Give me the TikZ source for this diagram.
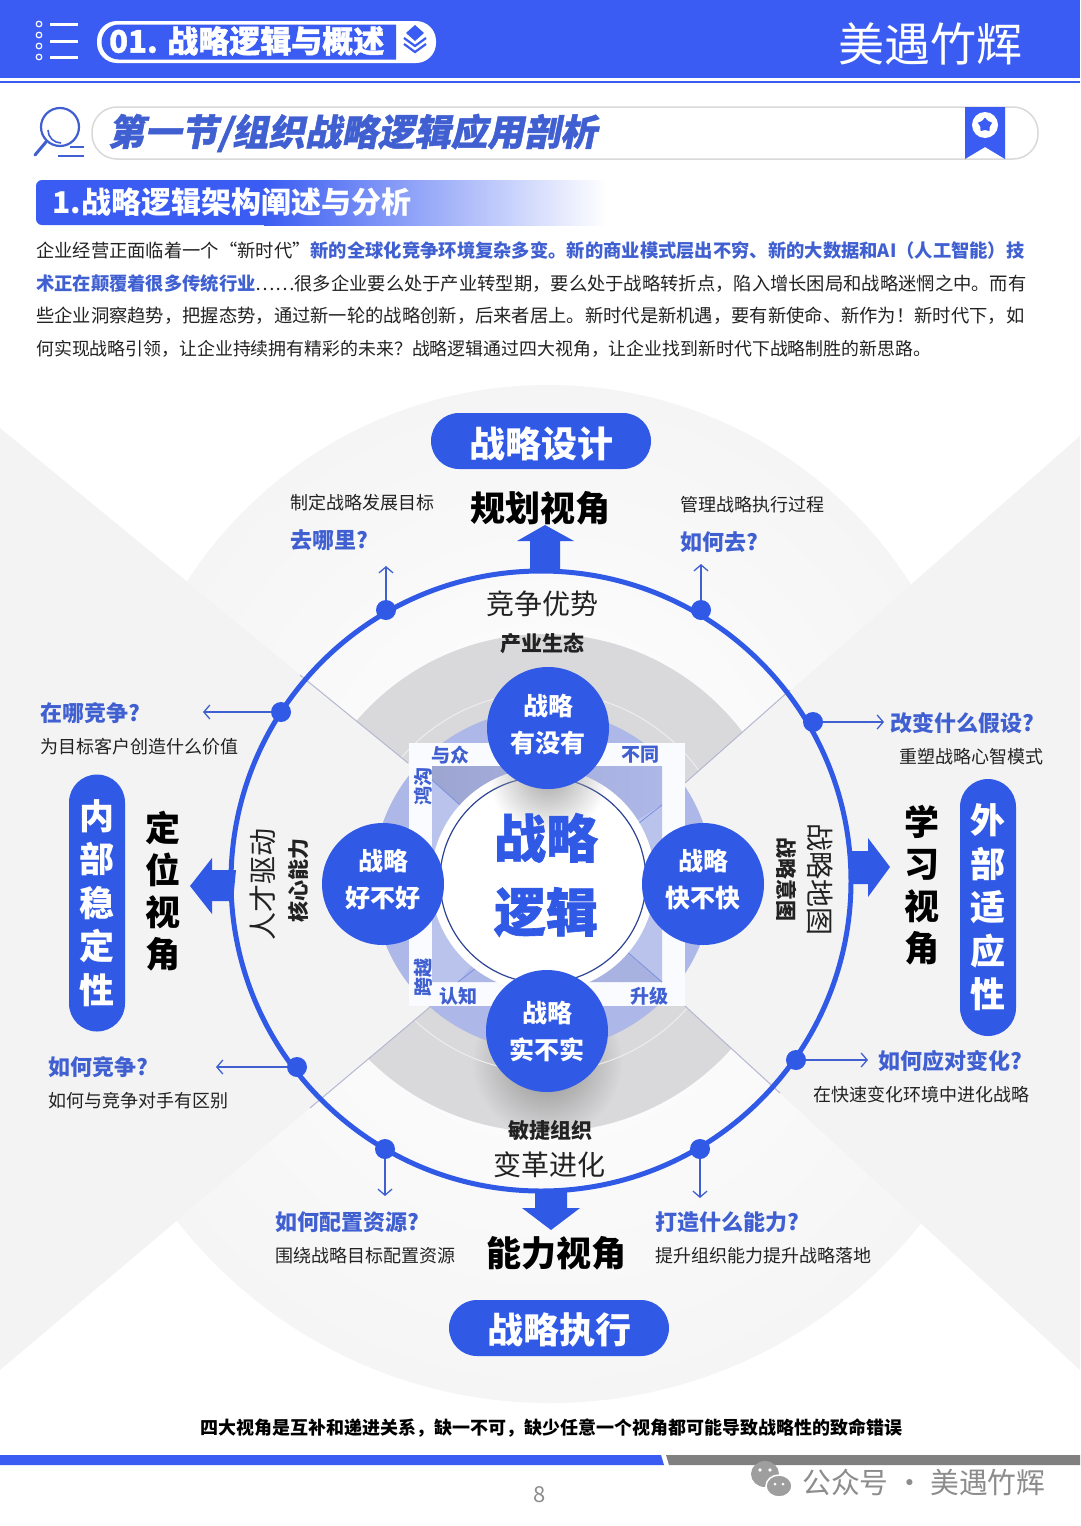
\documentclass[tikz,border=0pt]{standalone}
\usepackage{fontspec}
\setmainfont{Noto Sans CJK SC}
\newfontfamily\heavyfont[FakeBold=1.2]{Noto Sans CJK SC}
\newfontfamily\slantfont[FakeSlant=0.2,FakeBold=1.2]{Noto Sans CJK SC}
\usetikzlibrary{arrows.meta,shapes.geometric,fadings}
\definecolor{mainblue}{HTML}{3059E6}
\definecolor{headblue}{HTML}{3A5CF2}
\definecolor{textblue}{HTML}{4060D2}
\definecolor{bodyblack}{HTML}{222222}
\definecolor{sidegrey}{HTML}{F3F3F4}
\definecolor{sectorgrey}{HTML}{F5F5F6}
\definecolor{ringgrey}{HTML}{D9D9DB}
\definecolor{diskblue}{HTML}{AEB8E8}
\definecolor{diagline}{HTML}{B4B7D0}
\newcommand{\fsz}[2]{\fontsize{#1}{#2}\selectfont}
\tikzfading[name=softspot,inner color=transparent!0,outer color=transparent!100]
\tikzset{
  plaintext/.style={anchor=west,inner sep=0pt,text=bodyblack,font=\fsz{18}{22}},
  asklabel/.style={anchor=west,inner sep=0pt,text=textblue,font=\fsz{22}{26}\bfseries},
  bodyline/.style={anchor=west,inner sep=0pt,text=bodyblack,font=\fsz{18.3}{22}},
  pillbox/.style={fill=mainblue,rounded corners=28pt,text=white,inner sep=0pt,align=center},
  viewtext/.style={inner sep=0pt,text=black,font=\fsz{35}{42}\bfseries,align=center},
  stratdot/.style={circle,fill=mainblue,minimum size=122pt,inner sep=0pt,text=white,align=center,font=\fsz{25}{37}\bfseries},
  ringdot/.style={circle,fill=mainblue,minimum size=20pt,inner sep=0pt},
  ringarrow/.style={draw=textblue,line width=1.3pt,-{Straight Barb[length=6pt,width=14pt]}},
  cornertext/.style={inner sep=0pt,text=textblue,font=\fsz{19}{22}\bfseries},
  sidetext/.style={inner sep=0pt,text=bodyblack},
  bigarrow/.style={fill=mainblue},
}
\begin{document}
\begin{tikzpicture}[x=1pt,y=-1pt]
\useasboundingbox (0,0) rectangle (1080,1526);
\fill[white] (0,0) rectangle (1080,1526);
% header band
\fill[headblue] (0,0) rectangle (1080,78);
\fill[headblue] (0,80.5) rectangle (1080,82.5);
\foreach \yy in {24,35,46,57} {\draw[white,line width=1.2pt] (39,\yy) circle (2.8);}
\foreach \yy in {24,41,57} {\draw[white,line width=3pt] (50,\yy) -- (78,\yy);}
\fill[white,rounded corners=20pt] (97,21) rectangle (436,63);
\fill[headblue] (119,24.5) -- (396,24.5) -- (396,59.5) -- (119,59.5) arc[start angle=90,end angle=270,radius=17.5];
\node[inner sep=0pt,anchor=west,text=white,font=\fsz{31}{36}\heavyfont\bfseries] (chaptitle) at (109,41) {01. 战略逻辑与概述};
\fill[headblue] (415,25) -- (424,33) -- (415,41) -- (406,33) -- cycle;
\draw[headblue,line width=2.2pt] (404,38) -- (415,46) -- (426,38);
\draw[headblue,line width=2.2pt] (404,44) -- (415,52) -- (426,44);
\node[inner sep=0pt,text=white,font=\fsz{46}{50}] (brandname) at (930,44) {美遇竹辉};
% section title
\draw[white!85!black,line width=1.5pt,fill=white,rounded corners=25pt] (92,107) rectangle (1038,159);
\node[inner sep=0pt,anchor=west,text=textblue,font=\fsz{36.5}{42}\slantfont\bfseries] (sectitle) at (108,133) {第一节/组织战略逻辑应用剖析};
\fill[headblue] (965,107) -- (1005,107) -- (1005,159) -- (985,147) -- (965,159) -- cycle;
\fill[white] (985,125) circle (13);
\node[star,star points=5,fill=headblue,minimum size=15pt,inner sep=0pt] (badgestar) at (985,125) {};
\draw[textblue,line width=2.2pt,fill=white] (60,127) circle (19);
\draw[textblue,line width=1.6pt] (48,130) arc[start angle=180,end angle=90,radius=13];
\draw[textblue,line width=3pt,line cap=round] (46,142) -- (35,155);
\draw[textblue,line width=2.2pt] (70,147) -- (84,147);
\draw[textblue,line width=2.2pt] (58,156) -- (84,156);
% subsection bar
\fill[headblue,rounded corners=6pt] (36,180) rectangle (270,225);
\shade[left color=headblue,right color=white] (264,180) rectangle (606,225);
\node[inner sep=0pt,anchor=west,text=white,font=\fsz{30}{34}\bfseries] (subtitle) at (52,202) {1.战略逻辑架构阐述与分析};
% body text
\node[bodyline] (bodya) at (36,251) {企业经营正面临着一个“新时代”\textcolor{textblue}{\bfseries 新的全球化竞争环境复杂多变。新的商业模式层出不穷、新的大数据和AI（人工智能）技}};
\node[bodyline] (bodyb) at (36,284) {\textcolor{textblue}{\bfseries 术正在颠覆着很多传统行业}……很多企业要么处于产业转型期，要么处于战略转折点，陷入增长困局和战略迷惘之中。而有};
\node[bodyline] (bodyc) at (36,316) {些企业洞察趋势，把握态势，通过新一轮的战略创新，后来者居上。新时代是新机遇，要有新使命、新作为！新时代下，如};
\node[bodyline,font=\fsz{17.9}{22}] (bodyd) at (36,349) {何实现战略引领，让企业持续拥有精彩的未来？战略逻辑通过四大视角，让企业找到新时代下战略制胜的新思路。};
% backdrop wedges
\fill[sidegrey] (0,428) -- (408,763) -- (545,880) -- (430,1007) -- (0,1370) -- cycle;
\fill[sidegrey] (1080,436) -- (685,783) -- (545,880) -- (685,1006) -- (1080,1370) -- cycle;
\begin{scope}
\clip (0,428) -- (408,763) -- (545,870) -- (685,783) -- (1080,436) -- (1080,0) -- (0,0) -- cycle;
\shade[inner color=white,outer color=sectorgrey] (548,815) circle (430);
\fill[ringgrey] (545,882) circle (248);
\draw[white!93!black,line width=1pt] (545,882) circle (190);
\end{scope}
\begin{scope}
\clip (0,1370) -- (430,1007) -- (545,900) -- (685,1006) -- (1080,1370) -- (1080,1526) -- (0,1526) -- cycle;
\shade[inner color=white,outer color=sectorgrey] (550,930) circle (473);
\fill[ringgrey] (545,882) circle (250);
\fill[black!45,path fading=softspot] (547,1062) circle (75);
\draw[white!93!black,line width=1pt] (545,882) circle (190);
\end{scope}
\draw[diagline,line width=1pt] (300,675) -- (408,763);
\draw[diagline,line width=1pt] (790,690) -- (685,783);
\draw[diagline,line width=1pt] (310,1108) -- (430,1007);
\draw[diagline,line width=1pt] (780,1093) -- (685,1006);
% centre square
\fill[diskblue] (543,880) circle (170);
\fill[white!94!diskblue] (409,743) rectangle (685,1006);
\shade[left color=black!10!diskblue,right color=diskblue] (432,766) -- (662,766) -- (662,805) -- (543,880) -- (432,780) -- cycle;
\fill[diskblue!85] (432,780) -- (543,880) -- (458,982) -- (432,982) -- cycle;
\fill[diskblue!85] (662,805) -- (543,880) -- (630,955) -- (662,982) -- cycle;
\shade[left color=diskblue,right color=black!4!diskblue] (458,982) -- (543,880) -- (630,955) -- (662,982) -- cycle;
\draw[textblue!70,line width=.8pt] (432,780) -- (460,805);
\draw[textblue!70,line width=.8pt] (662,805) -- (630,830);
\draw[textblue!70,line width=.8pt] (458,982) -- (480,965);
\draw[textblue!70,line width=.8pt] (662,982) -- (625,950);
\node[cornertext] (withall) at (450,755) {与众};
\node[cornertext] (differ) at (640,755) {不同};
\node[cornertext] (knowing) at (458,996) {认知};
\node[cornertext] (upgrade) at (649,996) {升级};
\node[cornertext,rotate=90] (gapword) at (423,786) {鸿沟};
\node[cornertext,rotate=90] (crossword) at (423,977) {跨越};
% big ring and arrows
\draw[mainblue,line width=5pt] (541,881) circle (310);
\fill[bigarrow] (530,572) -- (530,541) -- (517,541) -- (545,525) -- (574,541) -- (560,541) -- (560,572) -- cycle;
\fill[bigarrow] (852,851) -- (868,851) -- (868,838) -- (890,867) -- (868,897) -- (868,884) -- (852,884) -- cycle;
\fill[bigarrow] (236,870) -- (212,870) -- (212,858) -- (190,886) -- (212,914) -- (212,901) -- (233,901) -- cycle;
\fill[bigarrow] (535,1190) -- (535,1208) -- (522,1208) -- (551,1230) -- (580,1208) -- (567,1208) -- (567,1190) -- cycle;
% logic core
\fill[white] (543,880) circle (112);
\draw[black!30!textblue,line width=1.2pt] (543,880) circle (103);
\begin{scope}
\clip (543,880) circle (112);
\fill[black!35,path fading=softspot] (548,775) circle (60);
\end{scope}
\node[inner sep=0pt,text=mainblue,align=center,font=\fsz{52}{74}\heavyfont\bfseries] (corelogic) at (546,875) {战略\\逻辑};
\node[stratdot,text depth=10pt] (havedot) at (548,728) {战略\\有没有};
\node[stratdot,text depth=12pt] (gooddot) at (383,884) {战略\\好不好};
\node[stratdot,text depth=12pt] (fastdot) at (703,884) {战略\\快不快};
\node[stratdot] (realdot) at (547,1031) {战略\\实不实};
% ring texts
\node[sidetext,font=\fsz{28}{32}] (rivaltop) at (542,604) {竞争优势};
\node[sidetext,font=\fsz{21}{25}\bfseries] (ecotop) at (542,644) {产业生态};
\node[sidetext,font=\fsz{21}{25}\bfseries] (agilebot) at (550,1130) {敏捷组织};
\node[sidetext,font=\fsz{28}{32}] (changebot) at (549,1165) {变革进化};
\node[sidetext,font=\fsz{28}{32},rotate=90] (talentleft) at (263,884) {人才驱动};
\node[sidetext,font=\fsz{21}{25}\bfseries,rotate=90] (coreleft) at (298,880) {核心能力};
\node[sidetext,font=\fsz{28}{32},rotate=-90] (mapright) at (820,879) {战略地图};
\node[sidetext,font=\fsz{21}{25}\bfseries,rotate=-90] (intentright) at (787,879) {战略意图};
% view titles
\node[pillbox,minimum width=220pt,minimum height=56pt,text height=37pt,font=\fsz{36}{42}\bfseries] (designpill) at (541,441) {战略设计};
\node[pillbox,minimum width=220pt,minimum height=56pt,text height=34pt,font=\fsz{36}{42}\bfseries] (executepill) at (559,1328) {战略执行};
\node[pillbox,minimum width=56pt,minimum height=257pt,font=\fsz{35}{43.5}\bfseries] (innerpill) at (97,903) {内\\部\\稳\\定\\性};
\node[pillbox,minimum width=56pt,minimum height=257pt,font=\fsz{35}{43.5}\bfseries] (outerpill) at (988,907.5) {外\\部\\适\\应\\性};
\node[viewtext] (planview) at (540,508) {规划视角};
\node[viewtext] (abilityview) at (556,1253) {能力视角};
\node[viewtext] (placeview) at (163,891) {定\\位\\视\\角};
\node[viewtext] (learnview) at (922,885) {学\\习\\视\\角};
% question labels
\node[plaintext] (goalnote) at (290,503) {制定战略发展目标};
\node[asklabel] (whereask) at (290,540) {去哪里?};
\node[plaintext] (processnote) at (680,505) {管理战略执行过程};
\node[asklabel] (howgoask) at (680,542) {如何去?};
\node[asklabel] (fieldask) at (40,713) {在哪竞争?};
\node[plaintext] (valuenote) at (40,747) {为目标客户创造什么价值};
\node[asklabel] (assumeask) at (890,723) {改变什么假设?};
\node[plaintext] (mindnote) at (899,757) {重塑战略心智模式};
\node[asklabel] (competeask) at (48,1067) {如何竞争?};
\node[plaintext] (rivalnote) at (48,1101) {如何与竞争对手有区别};
\node[asklabel] (adaptask) at (878,1061) {如何应对变化?};
\node[plaintext] (evolvenote) at (813,1095) {在快速变化环境中进化战略};
\node[asklabel] (resourceask) at (275,1222) {如何配置资源?};
\node[plaintext] (allocnote) at (275,1256) {围绕战略目标配置资源};
\node[asklabel] (buildask) at (655,1222) {打造什么能力?};
\node[plaintext] (landnote) at (655,1256) {提升组织能力提升战略落地};
% ring connectors
\node[ringdot] (dota) at (386,610) {};
\node[ringdot] (dotb) at (701,610) {};
\node[ringdot] (dotc) at (281,712) {};
\node[ringdot] (dotd) at (813,722) {};
\node[ringdot] (dote) at (297,1067) {};
\node[ringdot] (dotf) at (796,1060) {};
\node[ringdot] (dotg) at (385,1149) {};
\node[ringdot] (doth) at (700,1149) {};
\coordinate (enda) at (386,566);
\coordinate (endb) at (701,564);
\coordinate (endc) at (203,712);
\coordinate (endd) at (884,722);
\coordinate (ende) at (216,1067);
\coordinate (endf) at (868,1060);
\coordinate (endg) at (385,1196);
\coordinate (endh) at (700,1198);
\draw[ringarrow] (dota) -- (enda);
\draw[ringarrow] (dotb) -- (endb);
\draw[ringarrow] (dotc) -- (endc);
\draw[ringarrow] (dotd) -- (endd);
\draw[ringarrow] (dote) -- (ende);
\draw[ringarrow] (dotf) -- (endf);
\draw[ringarrow] (dotg) -- (endg);
\draw[ringarrow] (doth) -- (endh);
% footer
\node[inner sep=0pt,text=black,font=\fsz{18}{22}\bfseries] (closing) at (551,1428) {四大视角是互补和递进关系，缺一不可，缺少任意一个视角都可能导致战略性的致命错误};
\fill[headblue] (0,1455) -- (661,1455) -- (664,1465) -- (0,1465) -- cycle;
\fill[black!50] (666,1455) -- (1080,1455) -- (1080,1465) -- (669,1465) -- cycle;
\node[inner sep=0pt,text=black!45,font=\fsz{22}{26}] (pagenum) at (540,1495) {8};
\fill[black!38] (765,1474) ellipse (14 and 13);
\draw[white,line width=1.5pt,fill=black!38] (779,1486) ellipse (13 and 11);
\fill[white] (760,1470) circle (1.8) (770,1470) circle (1.8) (775,1484) circle (1.5) (783,1484) circle (1.5);
\node[inner sep=0pt,anchor=west,text=black!45,font=\fsz{28.8}{32}] (watermark) at (802,1482) {公众号 · 美遇竹辉};
\end{tikzpicture}
\end{document}
